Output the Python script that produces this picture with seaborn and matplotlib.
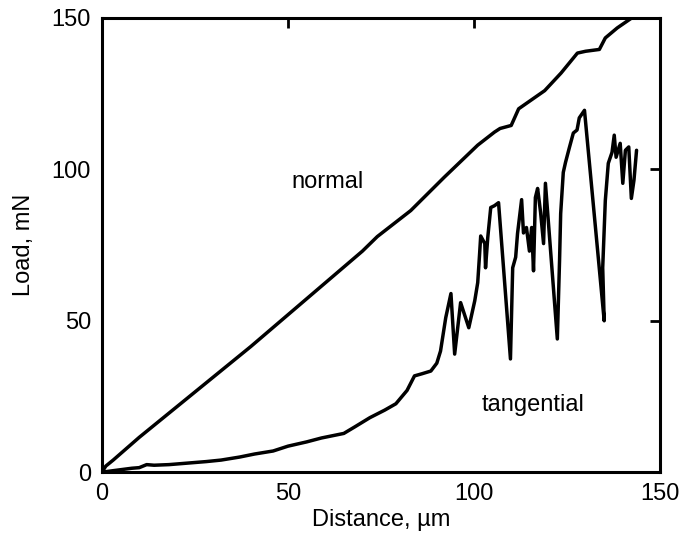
import pandas as pd
import matplotlib
matplotlib.use("Agg")
import matplotlib.pyplot as plt
import seaborn as sns

# --- data ---
normal_x = [0, 1, 3, 10, 20, 30, 40, 50, 60, 70, 74, 83, 92, 101, 105.5, 107,
            110, 112, 119, 123.4, 127.8, 130, 133.7, 135.3, 138.5, 143, 146]
normal_y = [0, 2, 4, 11.5, 21.5, 31.5, 41.5, 52, 62.5, 73, 77.8, 86.4, 97.4, 108,
            112.3, 113.5, 114.5, 120, 126, 131.8, 138.4, 139, 139.6, 143.4,
            146.7, 150.5, 153]

tang_x = [0, 3, 8, 10, 12, 14, 18, 23, 28, 32, 37, 41, 46, 50, 55, 59, 65, 68,
          72, 76, 79, 82, 84, 86, 88.4, 90, 91, 92.4, 93.8, 94.8, 96.4, 98.6,
          100.2, 101, 101.5, 101.8, 102.9, 103.1, 103.7, 104.5, 105.5, 106.6,
          109.8, 110.4, 111.2, 111.7, 112.8, 113.3, 114.1, 114.9, 115.5, 116,
          116.5, 117.1, 117.9, 118.7, 119.2, 122.4, 123, 123.3, 124, 124.6,
          125.6, 126.7, 127.7, 128.3, 129.7, 135, 134.6, 135.3, 136.1, 137.1,
          137.7, 138.2, 139.3, 140, 140.7, 141.6, 142.3, 143, 143.7]
tang_y = [0, 0.5, 1.3, 1.5, 2.5, 2.3, 2.5, 3, 3.5, 4, 5, 6, 7, 8.6, 10, 11.3,
          12.8, 15, 18, 20.5, 22.6, 27, 31.8, 32.5, 33.4, 36, 40, 51, 59, 39,
          56, 47.7, 56.6, 62.6, 72, 78, 75.5, 67.5, 77.5, 87.4, 88, 89, 37.4,
          67.5, 71, 78.8, 90, 79, 80.8, 73, 80.8, 66.5, 90.7, 93.7, 85.8, 75.5,
          95.4, 44, 70, 85.4, 99, 102.3, 107, 112, 113, 117, 119.5, 50, 67.5,
          89.7, 102, 105.6, 111.3, 104, 108.6, 95.4, 106.3, 107.4, 90.4, 96.4,
          106.3]

ticks = [0, 50, 100, 150]

df_n = pd.DataFrame({"x": normal_x, "y": normal_y})
df_t = pd.DataFrame({"x": tang_x, "y": tang_y})

sns.set_style("white")
plt.rcParams["font.family"] = ["Liberation Sans", "DejaVu Sans"]
plt.rcParams["text.color"] = "black"
plt.rcParams["axes.labelcolor"] = "black"

fig, ax = plt.subplots(figsize=(6.94, 5.44), dpi=100)
fig.subplots_adjust(left=0.147, right=0.951, top=0.967, bottom=0.132)

sns.lineplot(data=df_n, x="x", y="y", sort=False, color="black", linewidth=2.5, ax=ax)
sns.lineplot(data=df_t, x="x", y="y", sort=False, color="black", linewidth=2.5, ax=ax)

ax.set_xlim(0, 150)
ax.set_ylim(0, 150)
ax.set_xticks(ticks)
ax.set_yticks(ticks)
ax.tick_params(direction="in", length=7, width=2, labelsize=17, pad=8,
               top=True, right=True, colors="black")
for s in ax.spines.values():
    s.set_linewidth(2.2)
    s.set_color("black")

ax.set_xlabel("Distance, µm", fontsize=17, labelpad=3)
ax.set_ylabel("Load, mN", fontsize=17, labelpad=12)

ax.text(60.5, 95.7, "normal", fontsize=17, ha="center", va="center")
ax.text(116, 22.2, "tangential", fontsize=17, ha="center", va="center")

fig.savefig("out.png", dpi=100)
